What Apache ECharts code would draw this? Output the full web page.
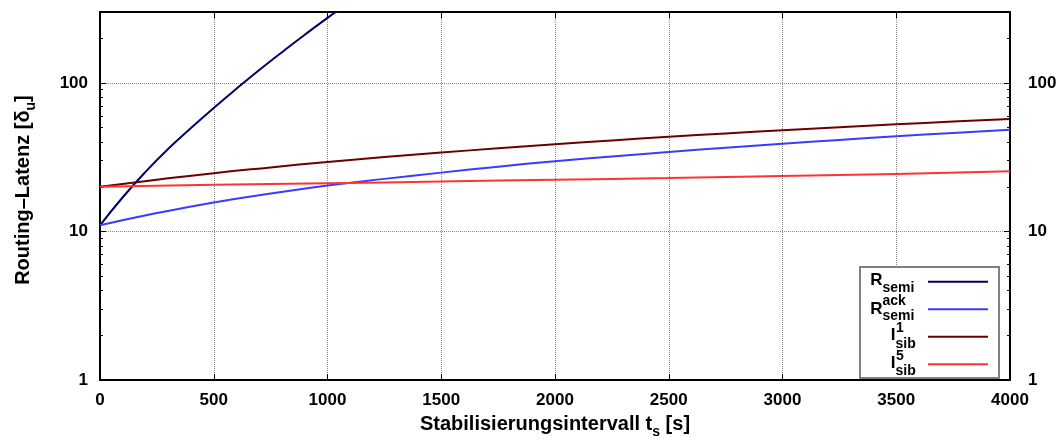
<!DOCTYPE html>
<html><head><meta charset="utf-8">
<script src="https://cdn.jsdelivr.net/npm/echarts@6/dist/echarts.min.js"></script>
<style>html,body{margin:0;padding:0;background:#fff}#c{width:1063px;height:444px}</style>
</head><body><div id="c"></div>
<script>
// ---- data ----
const seriesNames = ['R_semi', 'R_semi^ack', 'I_sib^1', 'I_sib^5'];
const tSemi = [0, 100, 200, 300, 400, 500, 600, 700, 800, 900, 1000, 1100];
const vSemi = [11.0, 17.0, 25.2, 36.0, 49.7, 67.8, 91.4, 122, 161, 211, 274, 352];
const tLin = [0, 250, 500, 750, 1000, 1250, 1500, 1750, 2000, 2250, 2500, 2750, 3000, 3250, 3500, 3750, 4000];
const vAck = [11.0, 13.3, 15.7, 18.0, 20.4, 22.6, 24.9, 27.3, 29.7, 32.0, 34.3, 36.6, 39.0, 41.3, 43.7, 46.0, 48.3];
const vSib1 = [20.0, 22.3, 24.7, 27.0, 29.4, 31.7, 34.0, 36.3, 38.7, 41.0, 43.4, 45.7, 48.0, 50.3, 52.6, 54.9, 57.2];
const tSib5 = [0, 500, 1000, 1500, 2000, 2500, 3000, 3500, 4000];
const vSib5 = [20.0, 20.6, 21.1, 21.7, 22.3, 22.9, 23.6, 24.4, 25.4];
const yMajor = [1, 10, 100];
const yMinor = [2, 3, 4, 5, 6, 7, 8, 9, 20, 30, 40, 50, 60, 70, 80, 90, 200, 300];
const colors = ['#000066', '#3b3bff', '#6b0000', '#ff3333'];

const FF = '"Liberation Sans", Arial, Helvetica, sans-serif';
const pairs = (t, v) => t.map((x, i) => [x, v[i]]);

const chart = echarts.init(document.getElementById('c'), null, {renderer: 'canvas'});

const labelStyle = {fontFamily: FF, fontWeight: 'bold', fontSize: 17, color: '#000'};
const lineBlack = {color: '#000', width: 2};

function yAx(pos, major) {
  return {
    type: 'log', logBase: 10, min: 1, max: 300, position: pos,
    axisLine: {show: major, onZero: false, lineStyle: lineBlack},
    axisTick: {show: true, inside: true, length: major ? 6 : 3, customValues: major ? yMajor : yMinor,
      lineStyle: {color: '#000', width: 1}},
    axisLabel: Object.assign({show: major, customValues: yMajor, margin: pos === 'left' ? 12 : 18}, labelStyle),
    splitLine: {show: major && pos === 'left', lineStyle: {type: 'dotted', color: '#888', width: 1}},
    minorTick: {show: false}
  };
}

const y0 = yAx('left', true);
y0.name = 'Routing–Latenz [δ{sub|u}]';
y0.nameLocation = 'middle';
y0.nameGap = 62;
y0.nameTextStyle = {fontFamily: FF, fontWeight: 'bold', fontSize: 20, color: '#000', padding: [0, 0, 0, 12],
  rich: {sub: {fontFamily: FF, fontWeight: 'bold', fontSize: 14, color: '#000', padding: [16, 0, 0, 0]}}};

const legendItems = [
  {base: 'R', sub: 'semi', sup: '', bx: 882.5, yb: 280, ysub: 288, ysup: 0, yl: 281.7},
  {base: 'R', sub: 'semi', sup: 'ack', bx: 882.5, yb: 309, ysub: 316, ysup: 301, yl: 309.3},
  {base: 'I', sub: 'sib', sup: '1', bx: 895.5, yb: 335.5, ysub: 344, ysup: 328.5, yl: 336.7},
  {base: 'I', sub: 'sib', sup: '5', bx: 895.5, yb: 363, ysub: 371.5, ysup: 356, yl: 364.3}
];
const graphics = [{type: 'rect', z: 100, shape: {x: 860, y: 267, width: 139, height: 111},
  style: {fill: '#fff', stroke: '#808080', lineWidth: 2}}];
legendItems.forEach((it, i) => {
  graphics.push({type: 'text', z: 101, x: it.bx, y: it.yb,
    style: {text: it.base, fill: '#000', font: 'bold 17px ' + FF, textAlign: 'right', textVerticalAlign: 'middle', align: 'right', verticalAlign: 'middle'}});
  graphics.push({type: 'text', z: 101, x: it.bx, y: it.ysub,
    style: {text: it.sub, fill: '#000', font: 'bold 14px ' + FF, textAlign: 'left', textVerticalAlign: 'middle', align: 'left', verticalAlign: 'middle'}});
  if (it.sup) graphics.push({type: 'text', z: 101, x: it.bx + (it.base === 'I' ? 0.5 : 0), y: it.ysup,
    style: {text: it.sup, fill: '#000', font: 'bold 14px ' + FF, textAlign: 'left', textVerticalAlign: 'middle', align: 'left', verticalAlign: 'middle'}});
  graphics.push({type: 'line', z: 101, shape: {x1: 928, y1: it.yl, x2: 988, y2: it.yl},
    style: {stroke: colors[i], lineWidth: 2}});
});

const option = {
  animation: false,
  backgroundColor: '#fff',
  grid: {left: 100, right: 53, top: 12, bottom: 61, containLabel: false},
  xAxis: [
    {type: 'value', min: 0, max: 4000, interval: 500, position: 'bottom',
      axisLine: {show: true, onZero: false, lineStyle: lineBlack},
      axisTick: {show: true, inside: true, length: 6, lineStyle: {color: '#000', width: 1}},
      axisLabel: Object.assign({margin: 12, formatter: v => String(v)}, labelStyle),
      splitLine: {show: true, lineStyle: {type: 'dotted', color: '#888', width: 1}},
      name: 'Stabilisierungsintervall t{sub|s} [s]', nameLocation: 'middle', nameGap: 20,
      nameTextStyle: {fontFamily: FF, fontWeight: 'bold', fontSize: 20, color: '#000',
        rich: {sub: {fontFamily: FF, fontWeight: 'bold', fontSize: 14, color: '#000', padding: [16, 0, 0, 0]}}}},
    {type: 'value', min: 0, max: 4000, interval: 500, position: 'top',
      axisLine: {show: true, onZero: false, lineStyle: lineBlack},
      axisTick: {show: true, inside: true, length: 6, lineStyle: {color: '#000', width: 1}},
      axisLabel: {show: false}, splitLine: {show: false}}
  ],
  yAxis: [y0, yAx('left', false), yAx('right', true), yAx('right', false)],
  series: [
    {name: seriesNames[0], data: pairs(tSemi, vSemi), color: colors[0]},
    {name: seriesNames[1], data: pairs(tLin, vAck), color: colors[1]},
    {name: seriesNames[2], data: pairs(tLin, vSib1), color: colors[2]},
    {name: seriesNames[3], data: pairs(tSib5, vSib5), color: colors[3]}
  ].map(s => Object.assign({type: 'line', xAxisIndex: 0, yAxisIndex: 0, showSymbol: false, symbol: 'none',
    clip: true, smooth: 0.5, lineStyle: {width: 2, color: s.color}, itemStyle: {color: s.color}, z: 5}, s)),
  graphic: graphics
};
chart.setOption(option);
</script></body></html>
